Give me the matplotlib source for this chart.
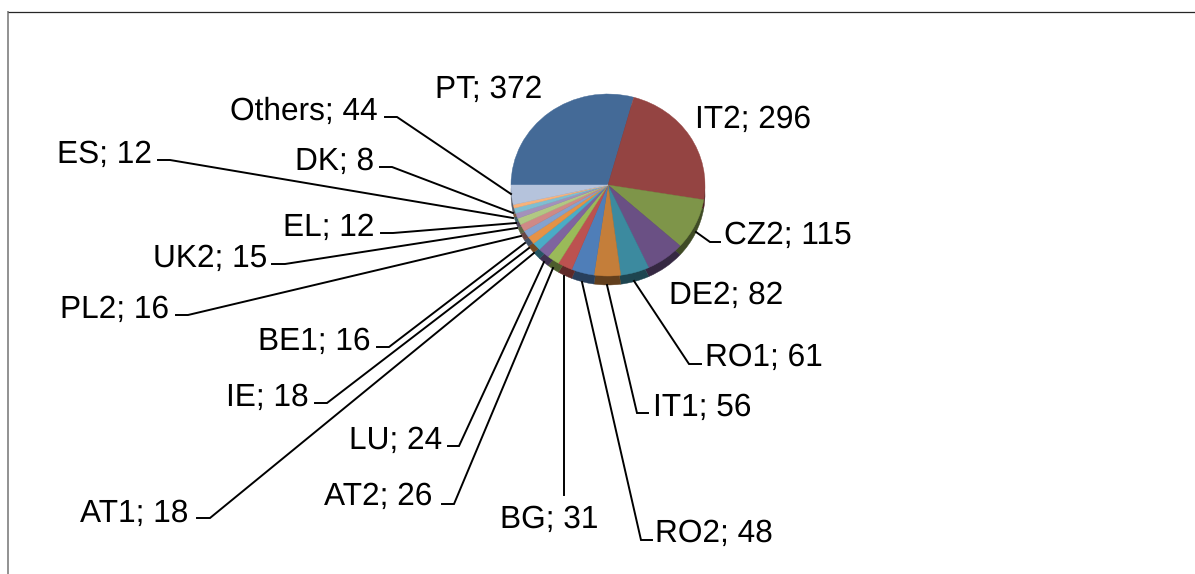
import matplotlib
matplotlib.use("Agg")
import matplotlib.pyplot as plt
import matplotlib.colors as mc
import numpy as np

plt.rcParams['font.family'] = ['Liberation Sans', 'DejaVu Sans']
plt.rcParams['text.hinting'] = 'no_hinting'

### Data #####################################################################
names = ['PT', 'IT2', 'CZ2', 'DE2', 'RO1', 'IT1', 'RO2', 'BG', 'AT2', 'LU',
         'AT1', 'IE', 'BE1', 'PL2', 'UK2', 'EL', 'ES', 'DK', 'Others']
values = [372, 296, 115, 82, 61, 56, 48, 31, 26, 24,
          18, 18, 16, 16, 15, 12, 12, 8, 44]
colors = ['#446A97', '#944442', '#7E9549', '#6A5084', '#3C8A9F', '#C47E3A',
          '#4F7EB8', '#BC5250', '#9ABA59', '#7F649F', '#4AACC6', '#E59245',
          '#84A2CE', '#CF8986', '#B1C883', '#A391BB', '#7FBED1', '#F8B27A',
          '#B5C3DC']

### Layout in pixels: text left edge, baseline ##############################
text_x = [435, 695, 724, 669, 705, 653, 655, 500, 324, 349,
          80, 226, 258, 60, 153, 283, 57, 295, 230]
text_y = [98, 128, 244, 304, 366, 416, 542, 528, 505, 449,
          522, 406, 350, 318, 267, 236, 163, 170, 120]
# leader lines: outer end, elbow, end at the pie
leaders = {
    'CZ2': [(720, 242), (710, 242), (696, 232)],
    'RO1': [(701, 364), (689, 364), (634, 281)],
    'IT1': [(648, 413), (637, 413), (607, 285)],
    'RO2': [(652, 540), (641, 540), (582, 282)],
    'BG': [(564, 495), (564, 495), (564, 276)],
    'AT2': [(442, 504), (454, 504), (553, 268)],
    'LU': [(448, 446), (459, 446), (544, 262)],
    'AT1': [(197, 518), (210, 518), (534, 253)],
    'IE': [(315, 403), (327, 403), (529, 248)],
    'BE1': [(377, 347), (389, 347), (525, 243)],
    'PL2': [(176, 315), (188, 315), (521, 236)],
    'UK2': [(272, 264), (285, 264), (517, 228)],
    'EL': [(381, 233), (393, 233), (516, 223)],
    'ES': [(158, 160), (170, 160), (513, 218)],
    'DK': [(380, 167), (392, 167), (513, 213)],
    'Others': [(385, 117), (397, 117), (511, 194)],
}

W, H = 1195, 574
cx, cy, rx, ry = 608, 185, 97, 91
depth = 9
pad = 1.2

fig = plt.figure(figsize=(W / 100, H / 100), dpi=100, facecolor='white')

### Pie ######################################################################
ax_pie = fig.add_axes([(cx - pad * rx) / W, 1 - (cy + pad * ry) / H,
                       2 * pad * rx / W, 2 * pad * ry / H])
side = [tuple(np.array(mc.to_rgb(c)) * 0.5) for c in colors]
low, _ = ax_pie.pie(values, colors=side, startangle=180, counterclock=False,
                    center=(0, -depth / ry), radius=1)
top, _ = ax_pie.pie(values, colors=colors, startangle=180, counterclock=False,
                    center=(0, 0), radius=1)
for w in low + top:                                                            # hide the seams between slices
    w.set_edgecolor(w.get_facecolor())
    w.set_linewidth(0.3)
ax_pie.set_aspect('auto')
ax_pie.set_xlim(-pad, pad)
ax_pie.set_ylim(-pad, pad)
ax_pie.axis('off')

### Overlay in pixel coordinates #############################################
ax = fig.add_axes([0, 0, 1, 1], facecolor='none')
ax.set_xlim(0, W)
ax.set_ylim(H, 0)
ax.axis('off')

ax.plot([8, 8], [11, H], color='#7f7f7f', lw=1.2, solid_capstyle='butt')
ax.plot([8, W], [11.5, 11.5], color='#262626', lw=0.9, solid_capstyle='butt')

for name, pts in leaders.items():
    pts = np.array(pts)
    ax.plot(pts[:, 0], pts[:, 1], color='black', lw=1.4, solid_joinstyle='miter')

for name, val, x, y in zip(names, values, text_x, text_y):
    ax.text(x, y, f"{name}; {val}", fontsize=22.8, color='black',
            ha='left', va='baseline')

fig.savefig('out.png', dpi=100)
